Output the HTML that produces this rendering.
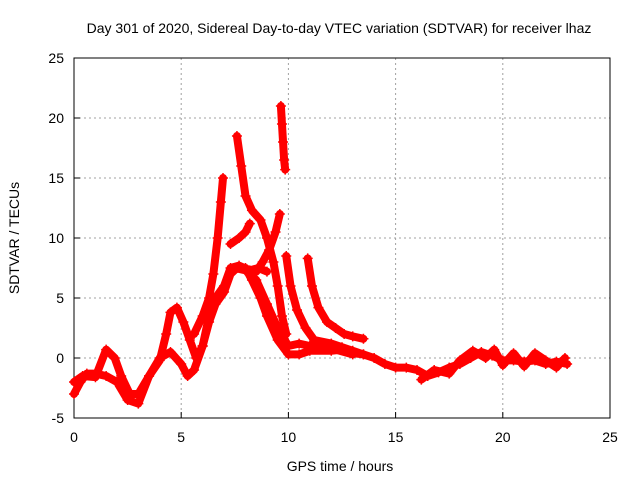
<!DOCTYPE html>
<html><head><meta charset="utf-8"><style>
body{margin:0;background:#fff}
svg{display:block;font-family:"Liberation Sans",sans-serif}
</style></head><body>
<svg id="chart" width="640" height="480" viewBox="0 0 640 480">
<text x="339" y="33" font-size="14" text-anchor="middle">Day 301 of 2020, Sidereal Day-to-day VTEC variation (SDTVAR) for receiver lhaz</text>
<g id="grid"></g>
<g id="axes"></g>
<g id="marks"></g>
<text x="340" y="471" font-size="14" text-anchor="middle">GPS time / hours</text>
<text transform="translate(19,238) rotate(-90)" font-size="14" text-anchor="middle">SDTVAR / TECUs</text>
</svg>
<script>
const xTicks=[0,5,10,15,20,25];
const yTicks=[-5,0,5,10,15,20,25];
const trackA=[[0,-3],[0.3,-2],[0.6,-1.3],[1,-1.3],[1.5,-1.5],[2,-2],[2.5,-3.5],[3,-3.8],[3.5,-1.5],[4,0],[4.5,0.5],[5,-0.5],[5.3,-1.5],[5.6,-1],[6,1],[6.3,3],[6.6,4.5],[7,5.5],[7.3,7],[7.6,7.5],[8,7.5],[8.3,6.5],[8.7,5],[9,3.5],[9.5,1.5],[10,0.3],[10.5,0.3],[11,0.6],[12,0.6],[12.5,0.7],[13,0.4],[13.5,0.3],[14,0],[14.5,-0.5],[15,-0.8],[15.5,-0.8],[16,-1],[16.5,-1.5],[17,-1.2],[17.5,-0.8],[18,-0.5],[18.5,0],[19,0.5],[19.5,0.2],[20,-0.2],[20.5,-0.2],[21,-0.3],[21.5,-0.2],[22,-0.5],[22.5,-0.3],[23,-0.5]];
const trackTail=[[16.2,-1.8],[16.8,-1],[17.5,-1.3],[18,-0.2],[18.6,0.6],[19.2,0],[19.6,0.7],[20,-0.6],[20.5,0.4],[21,-0.7],[21.5,0.4],[22,-0.2],[22.5,-0.8],[22.9,0]];
const trackB=[[0,-2],[0.4,-1.5],[1,-1.6],[1.5,0.7],[1.9,0],[2.2,-1.5],[2.6,-3],[3,-3],[3.5,-1.5],[4,-0.2],[4.3,2],[4.5,3.8],[4.8,4.2],[5.1,3],[5.4,1.5],[5.7,0],[6,1],[6.3,3.5],[6.6,5],[7,6],[7.3,7.5],[7.7,7.7],[8.2,7.3],[8.6,7.5],[9,7.2]];
const trackPeak1=[[5.6,2],[6,3.5],[6.3,5],[6.5,7],[6.7,10],[6.85,13],[6.95,15]];
const trackPeak2=[[7.6,18.5],[7.8,16],[8,13.5],[8.3,12.3],[8.7,11.5],[9,10],[9.3,8],[9.5,6],[9.7,3.5],[9.9,2]];
const trackRise1=[[7.3,9.5],[7.7,10],[8,10.5],[8.2,11.2]];
const trackRise2=[[8.5,7.2],[8.8,8],[9.1,9],[9.4,10.5],[9.6,12]];
const trackSpike=[[9.65,21],[9.7,19.5],[9.75,18],[9.8,16.5],[9.85,15.7]];
const trackC=[[9.9,8.5],[10.1,6],[10.4,4],[10.8,2.5],[11.2,1.5],[12,1.2],[12.5,0.9],[13,0.6],[13.5,0.3]];
const trackD=[[10.9,8.3],[11.1,6],[11.4,4.2],[11.8,3],[12.2,2.5],[12.6,2],[13,1.8],[13.5,1.6]];
const trackE=[[7.5,7.5],[8,7.3],[8.5,6.5],[9,4.5],[9.5,2.5],[10,1],[10.5,1.2],[11,1],[11.5,1],[12,0.8],[13,0.3]];
const tracks=[trackA,trackTail,trackB,trackPeak1,trackPeak2,trackRise1,trackRise2,trackSpike,trackC,trackD,trackE];
const L=74,R=610,T=58,B=418;
const X=v=>L+(v-0)/25*(R-L);
const Y=v=>B-(v+5)/30*(B-T);
const NS="http://www.w3.org/2000/svg";
function mk(tag,attrs,parent){const e=document.createElementNS(NS,tag);for(const k in attrs)e.setAttribute(k,attrs[k]);parent.appendChild(e);return e;}
const grid=document.getElementById('grid'),axes=document.getElementById('axes'),marks=document.getElementById('marks');
xTicks.forEach(t=>{
  if(t>0&&t<25){const g=mk('line',{x1:X(t),x2:X(t),y1:T,y2:B,stroke:'#a0a0a0','stroke-dasharray':'2,3'},grid);
  
  }
  const tk=mk('line',{x1:X(t),x2:X(t),y1:B,y2:B-6,stroke:'#000'},axes);
  
  
  const tx=mk('text',{x:X(t),y:B+24,'font-size':14,'text-anchor':'middle'},axes);tx.textContent=t;
  
  
});
yTicks.forEach(t=>{
  if(t>-5&&t<25){const g=mk('line',{x1:L,x2:R,y1:Y(t),y2:Y(t),stroke:'#a0a0a0','stroke-dasharray':'2,3'},grid);
  
  }
  const tk=mk('line',{x1:L,x2:L+6,y1:Y(t),y2:Y(t),stroke:'#000'},axes);
  
  
  const tx=mk('text',{x:L-10,y:Y(t)+5,'font-size':14,'text-anchor':'end'},axes);tx.textContent=t;
  
  
});
const fr=mk('rect',{x:L,y:T,width:R-L,height:B-T,fill:'none',stroke:'#000'},axes);


tracks.forEach(tr=>{
  const pl=mk('polyline',{points:tr.map(p=>X(p[0])+','+Y(p[1])).join(' '),fill:'none',stroke:'#f00','stroke-width':8,'stroke-linejoin':'round','stroke-linecap':'round'},marks);
  
  
  tr.forEach(p=>{
    const x=X(p[0]),y=Y(p[1]);
    const m=mk('path',{d:`M${x-5},${y}h10M${x},${y-5}v10`,stroke:'#f00','stroke-width':1.5},marks);
    
    
  });
});
</script>
</body></html>
